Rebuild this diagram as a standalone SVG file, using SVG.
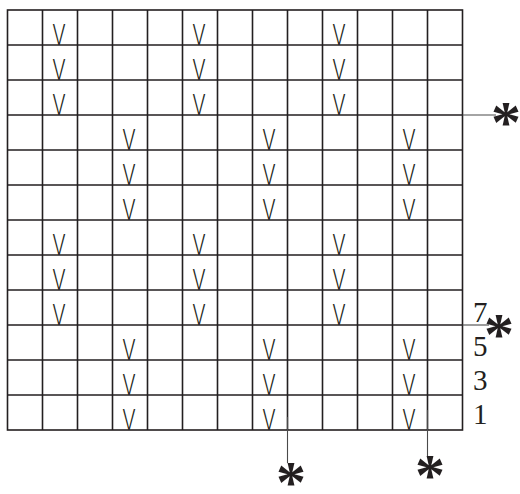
<svg xmlns="http://www.w3.org/2000/svg" width="520" height="494" viewBox="0 0 520 494">
<style>
.g{stroke:#231f20;stroke-width:1.6;fill:none}
.v{font-family:Roboto,"Liberation Sans",sans-serif;font-weight:300;font-size:30px;fill:#231f20;text-anchor:middle}
#stitches{opacity:0.995}
.ld{stroke:#4a4a4a;stroke-width:1.1;fill:none}
.ast{font-family:"Liberation Serif",serif;font-weight:bold;font-size:60px;fill:#231f20;text-anchor:middle}
.num{font-family:"Liberation Serif",serif;font-size:29px;fill:#231f20}
</style>
<rect width="520" height="494" fill="#fff"/>
<g id="grid" class="g">
<rect x="7.5" y="10" width="455" height="420"/>
<path d="M42.5 10V430M77.5 10V430M112.5 10V430M147.5 10V430M182.5 10V430M217.5 10V430M252.5 10V430M287.5 10V430M322.5 10V430M357.5 10V430M392.5 10V430M427.5 10V430"/>
<path d="M7.5 45H462.5M7.5 80H462.5M7.5 115H462.5M7.5 150H462.5M7.5 185H462.5M7.5 220H462.5M7.5 255H462.5M7.5 290H462.5M7.5 325H462.5M7.5 360H462.5M7.5 395H462.5"/>
</g>
<g id="stitches">
<text class="v" x="59" y="45" textLength="13" lengthAdjust="spacingAndGlyphs">V</text>
<text class="v" x="199" y="45" textLength="13" lengthAdjust="spacingAndGlyphs">V</text>
<text class="v" x="339" y="45" textLength="13" lengthAdjust="spacingAndGlyphs">V</text>
<text class="v" x="59" y="80" textLength="13" lengthAdjust="spacingAndGlyphs">V</text>
<text class="v" x="199" y="80" textLength="13" lengthAdjust="spacingAndGlyphs">V</text>
<text class="v" x="339" y="80" textLength="13" lengthAdjust="spacingAndGlyphs">V</text>
<text class="v" x="59" y="115" textLength="13" lengthAdjust="spacingAndGlyphs">V</text>
<text class="v" x="199" y="115" textLength="13" lengthAdjust="spacingAndGlyphs">V</text>
<text class="v" x="339" y="115" textLength="13" lengthAdjust="spacingAndGlyphs">V</text>
<text class="v" x="129" y="150" textLength="13" lengthAdjust="spacingAndGlyphs">V</text>
<text class="v" x="269" y="150" textLength="13" lengthAdjust="spacingAndGlyphs">V</text>
<text class="v" x="409" y="150" textLength="13" lengthAdjust="spacingAndGlyphs">V</text>
<text class="v" x="129" y="185" textLength="13" lengthAdjust="spacingAndGlyphs">V</text>
<text class="v" x="269" y="185" textLength="13" lengthAdjust="spacingAndGlyphs">V</text>
<text class="v" x="409" y="185" textLength="13" lengthAdjust="spacingAndGlyphs">V</text>
<text class="v" x="129" y="220" textLength="13" lengthAdjust="spacingAndGlyphs">V</text>
<text class="v" x="269" y="220" textLength="13" lengthAdjust="spacingAndGlyphs">V</text>
<text class="v" x="409" y="220" textLength="13" lengthAdjust="spacingAndGlyphs">V</text>
<text class="v" x="59" y="255" textLength="13" lengthAdjust="spacingAndGlyphs">V</text>
<text class="v" x="199" y="255" textLength="13" lengthAdjust="spacingAndGlyphs">V</text>
<text class="v" x="339" y="255" textLength="13" lengthAdjust="spacingAndGlyphs">V</text>
<text class="v" x="59" y="290" textLength="13" lengthAdjust="spacingAndGlyphs">V</text>
<text class="v" x="199" y="290" textLength="13" lengthAdjust="spacingAndGlyphs">V</text>
<text class="v" x="339" y="290" textLength="13" lengthAdjust="spacingAndGlyphs">V</text>
<text class="v" x="59" y="325" textLength="13" lengthAdjust="spacingAndGlyphs">V</text>
<text class="v" x="199" y="325" textLength="13" lengthAdjust="spacingAndGlyphs">V</text>
<text class="v" x="339" y="325" textLength="13" lengthAdjust="spacingAndGlyphs">V</text>
<text class="v" x="129" y="360" textLength="13" lengthAdjust="spacingAndGlyphs">V</text>
<text class="v" x="269" y="360" textLength="13" lengthAdjust="spacingAndGlyphs">V</text>
<text class="v" x="409" y="360" textLength="13" lengthAdjust="spacingAndGlyphs">V</text>
<text class="v" x="129" y="395" textLength="13" lengthAdjust="spacingAndGlyphs">V</text>
<text class="v" x="269" y="395" textLength="13" lengthAdjust="spacingAndGlyphs">V</text>
<text class="v" x="409" y="395" textLength="13" lengthAdjust="spacingAndGlyphs">V</text>
<text class="v" x="129" y="430" textLength="13" lengthAdjust="spacingAndGlyphs">V</text>
<text class="v" x="269" y="430" textLength="13" lengthAdjust="spacingAndGlyphs">V</text>
<text class="v" x="409" y="430" textLength="13" lengthAdjust="spacingAndGlyphs">V</text>
</g>
<g id="connectors" class="ld">
<line x1="462.5" y1="115" x2="496" y2="115"/>
<line x1="462.5" y1="325" x2="489" y2="325"/>
<line x1="287.5" y1="417" x2="287.5" y2="463"/>
<line x1="427.5" y1="410" x2="427.5" y2="456"/>
</g>
<g id="marker-row-top"><text class="ast" x="506" y="142">*</text></g>
<g id="marker-row-7"><text class="ast" x="499" y="354">*</text></g>
<g id="marker-col-left"><text class="ast" x="291" y="502">*</text></g>
<g id="marker-col-right"><text class="ast" x="430" y="495">*</text></g>
<g id="row-numbers">
<text class="num" x="473" y="322">7</text>
<text class="num" x="473" y="356">5</text>
<text class="num" x="473" y="390">3</text>
<text class="num" x="473" y="424">1</text>
</g>
</svg>
